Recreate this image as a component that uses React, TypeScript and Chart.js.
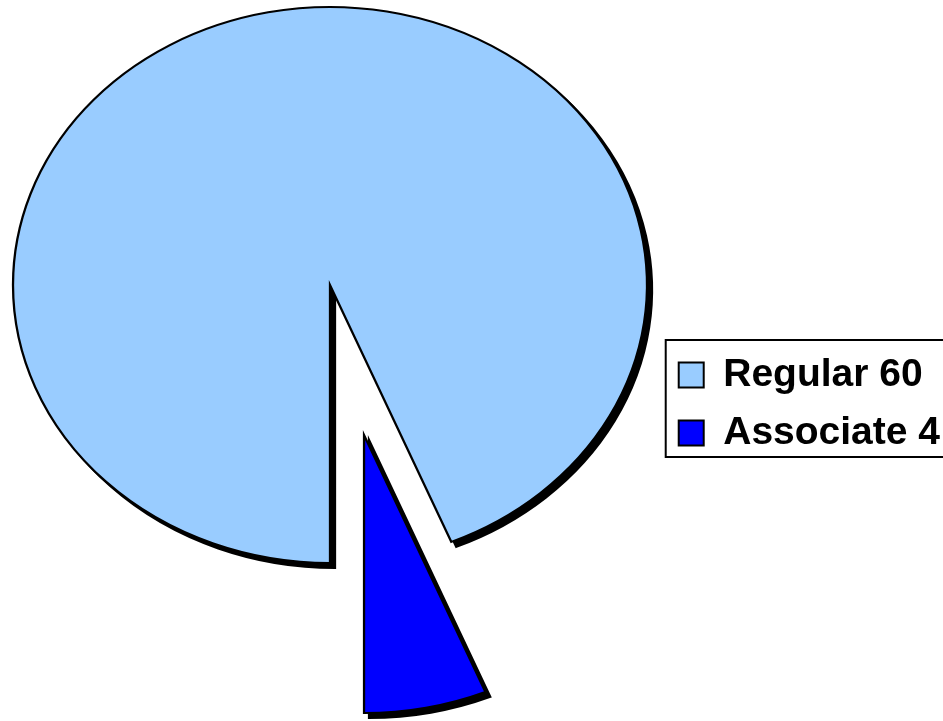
import React, { useEffect, useRef } from 'react';
import { Chart, registerables } from 'chart.js';

Chart.register(...registerables);

// ---- data ----
const categories = ['Regular', 'Associate'];
const counts = [60, 4];
const sliceColors = ['#99CCFF', '#0000FF'];

// ---- layout / style constants ----
const PIE_CX = 330;
const PIE_CY = 285;
const RADIUS_Y = 278;
const RADIUS_X = 317;
const SHADOW = 5;
const EXPLODE = [0, 153];

const ellipsePlugin = {
  id: 'ellipsePie',
  beforeDatasetsDraw(chart: any) {
    const meta = chart.getDatasetMeta(0);
    const arcs = meta.data;
    if (!arcs || !arcs.length) return;
    const ctx = chart.ctx;
    const ox = arcs[0].x;
    const oy = arcs[0].y;
    const apply = (dx: number, dy: number) => {
      ctx.translate(PIE_CX + dx, PIE_CY + dy);
      ctx.scale(RADIUS_X / RADIUS_Y, 1);
      ctx.translate(-ox, -oy);
    };
    const drawArc = (arc: any, i: number, shadow: boolean) => {
      ctx.save();
      apply(shadow ? SHADOW : 0, shadow ? SHADOW : 0);
      const d = EXPLODE[i] || 0;
      if (d) {
        const mid = (arc.startAngle + arc.endAngle) / 2;
        ctx.translate(Math.cos(mid) * d, Math.sin(mid) * d);
      }
      if (shadow) {
        const orig = arc.options;
        arc.options = Object.assign({}, orig, { backgroundColor: '#000000', borderColor: '#000000' });
        arc.draw(ctx);
        arc.options = orig;
      } else {
        arc.draw(ctx);
      }
      ctx.restore();
    };
    arcs.forEach((arc: any, i: number) => drawArc(arc, i, true));
    arcs.forEach((arc: any, i: number) => drawArc(arc, i, false));
    return false;
  },
};

const legendBoxPlugin = {
  id: 'legendBox',
  afterDraw(chart: any) {
    const lg = chart.legend;
    const hb = lg && lg.legendHitBoxes;
    if (!hb || !hb.length) return;
    const ctx = chart.ctx;
    const first = hb[0];
    const last = hb[hb.length - 1];
    const left = first.left - 13;
    const top = first.top - 15.5;
    const right = chart.width + 10;
    const bottom = last.top + last.height + 4.5;
    ctx.save();
    ctx.strokeStyle = '#000000';
    ctx.lineWidth = 2;
    ctx.strokeRect(left, top, right - left, bottom - top);
    ctx.restore();
  },
};

export default function App() {
  const ref = useRef<HTMLCanvasElement>(null);
  useEffect(() => {
    if (!ref.current) return;
    const chart = new Chart(ref.current, {
      type: 'pie',
      data: {
        labels: categories.map((c, i) => `${c} ${counts[i]}`),
        datasets: [
          {
            data: counts,
            backgroundColor: sliceColors,
            borderColor: '#000000',
            borderWidth: 2,
            borderJoinStyle: 'miter',
            radius: RADIUS_Y,
            rotation: 180,
            clip: false,
          } as any,
        ],
      },
      options: {
        animation: false,
        responsive: true,
        maintainAspectRatio: false,
        events: [],
        layout: { padding: { top: 87, right: -7, bottom: 0, left: 0 } },
        plugins: {
          legend: {
            position: 'right',
            align: 'center',
            labels: {
              boxWidth: 25,
              boxHeight: 25,
              padding: 19,
              color: '#000000',
              font: { family: '"Liberation Sans", Arial, sans-serif', size: 39, weight: 'bold' },
            },
          },
          tooltip: { enabled: false },
        },
      } as any,
      plugins: [ellipsePlugin, legendBoxPlugin],
    });
    return () => chart.destroy();
  }, []);
  return (
    <div
      style={{
        position: 'absolute',
        left: 0,
        top: 0,
        width: 943,
        height: 721,
        overflow: 'hidden',
        background: '#ffffff',
      }}
    >
      <canvas ref={ref} />
    </div>
  );
}
